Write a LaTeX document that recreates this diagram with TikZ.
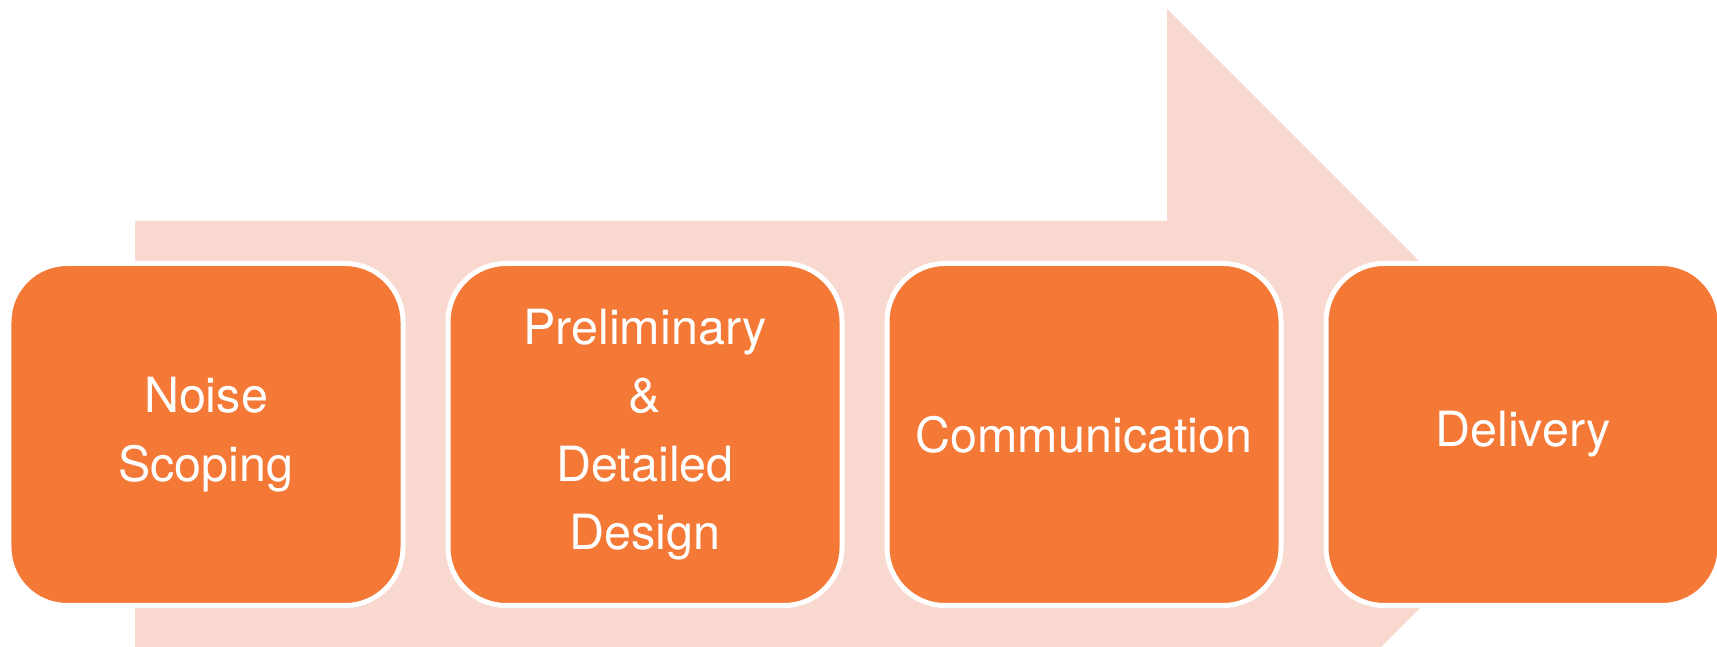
\documentclass[tikz,border=0pt]{standalone}
\usepackage{fontspec}
\setmainfont{TeX Gyre Heros}
\usepackage{tikz}
\usepackage{xcolor}

\definecolor{stageorange}{RGB}{244,121,55}
\definecolor{arrowpink}{RGB}{249,216,208}

\tikzset{
  stagebox/.style={rectangle, rounded corners=0.58cm, fill=stageorange, draw=white,
    line width=0.05cm, minimum width=3.94cm, minimum height=3.42cm,
    text=white, align=center, inner sep=0pt,
    font={\fontsize{13.8pt}{19.5pt}\selectfont}}
}

\begin{document}
\begin{tikzpicture}
  \useasboundingbox (0,0) rectangle (17.17,6.47);
  \clip (0,0) rectangle (17.17,6.47);

  % big arrow behind the stages
  \fill[arrowpink] (1.35,4.26) -- (11.67,4.26) -- (11.67,6.38) -- (15.93,2.12)
    -- (11.67,-2.14) -- (11.67,-0.02) -- (1.35,-0.02) -- cycle;

  % stages
  \node[stagebox] (scope)    at (2.06,2.125)  {Noise\\Scoping};
  \node[stagebox] (design)   at (6.45,2.125)  {Preliminary\\\&\\Detailed\\Design};
  \node[stagebox] (comms)    at (10.84,2.125) {Communication};
  \node[stagebox] (delivery) at (15.23,2.125) {Delivery};
\end{tikzpicture}
\end{document}
